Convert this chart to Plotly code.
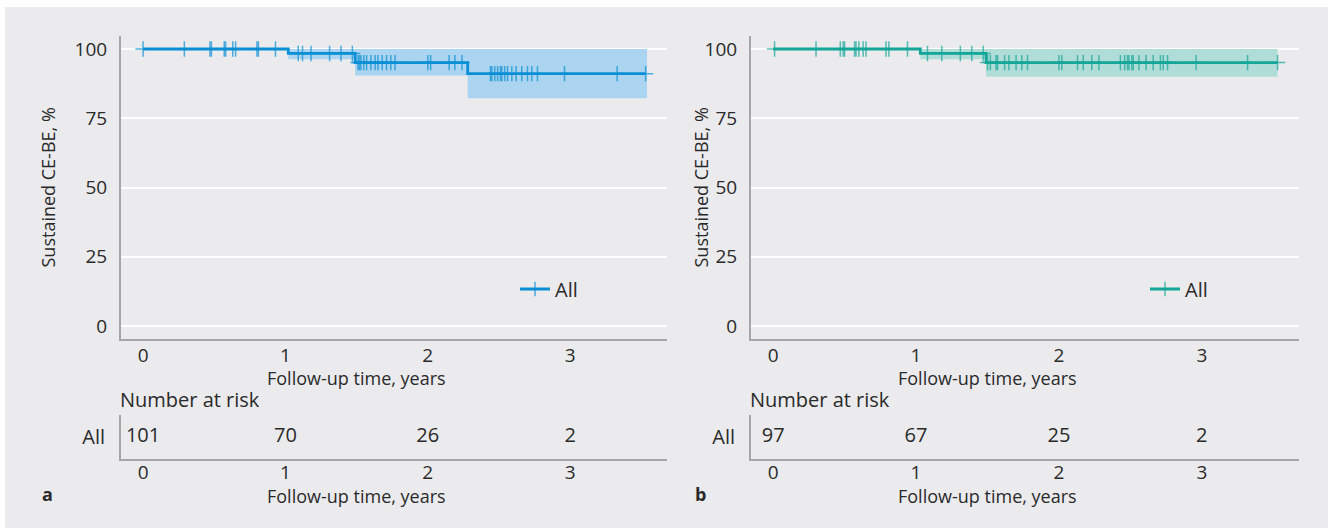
import plotly.graph_objects as go

W, H = 1328, 528

# ---------------- data ----------------
# Panel a
a_step_times = [0.0, 1.02, 1.49, 2.28]
a_step_levels = [100.0, 98.4, 95.1, 91.1]
a_censor_times = [0.00, 0.29, 0.47, 0.48, 0.57, 0.58, 0.63, 0.65, 0.80, 0.81, 0.93,
                  1.09, 1.12, 1.18, 1.31, 1.39, 1.47,
                  1.51, 1.52, 1.53, 1.55, 1.57, 1.60, 1.63, 1.65, 1.68, 1.71, 1.74, 1.77,
                  2.00, 2.02, 2.15, 2.19, 2.24,
                  2.44, 2.45, 2.47, 2.49, 2.51, 2.52, 2.54, 2.56, 2.59, 2.62, 2.66, 2.70,
                  2.73, 2.77, 2.96, 3.33, 3.53]
a_ci_times = [1.02, 1.49, 2.28, 3.54]
a_ci_lower = [96.3, 90.4, 82.2, 82.2]
a_ci_upper = [100.0, 100.0, 100.0, 100.0]
a_risk_times = [0, 1, 2, 3]
a_risk_counts = [101, 70, 26, 2]

# Panel b
b_step_times = [0.0, 1.03, 1.49]
b_step_levels = [100.0, 98.4, 95.1]
b_censor_times = [0.01, 0.30, 0.47, 0.49, 0.50, 0.57, 0.58, 0.60, 0.63, 0.65, 0.79, 0.81, 0.94,
                  1.08, 1.18, 1.31, 1.39, 1.47,
                  1.50, 1.52, 1.56, 1.57, 1.62, 1.65, 1.70, 1.74, 1.78,
                  2.00, 2.02, 2.13, 2.17, 2.23, 2.28,
                  2.43, 2.46, 2.48, 2.49, 2.51, 2.52, 2.56, 2.61, 2.66, 2.71, 2.73, 2.76,
                  2.96, 3.32, 3.53]
b_ci_times = [1.03, 1.49, 3.53]
b_ci_lower = [96.3, 90.0, 90.0]
b_ci_upper = [100.0, 100.0, 100.0]
b_risk_times = [0, 1, 2, 3]
b_risk_counts = [97, 67, 25, 2]

x_ticks = [0, 1, 2, 3]
y_ticks = [0, 25, 50, 75, 100]
x_title = "Follow-up time, years"
y_title = "Sustained CE-BE, %"
risk_title = "Number at risk"
group_name = "All"
panel_letters = ["a", "b"]

# ---------------- styling ----------------
BG = "#ebebee"
AXC = "#a6a6a8"
TXT = "#2a2a2a"
FONT = "Open Sans, Liberation Sans, Arial, sans-serif"
BLUE = "#0a8fd5"
BLUE_FILL = "#aad4ef"
TEAL = "#14a698"
TEAL_FILL = "#b1ddd8"


def px_x(p):
    return p / W


def px_y(p):
    return 1 - p / H


def km_trace_points(step_times, step_levels, censor_times):
    def level_at(t):
        lv = step_levels[0]
        for st, sl in zip(step_times, step_levels):
            if st <= t:
                lv = sl
        return lv
    pts = [(t, l, 0) for t, l in zip(step_times, step_levels)]
    pts += [(t, level_at(t), 11) for t in censor_times]
    pts.sort(key=lambda p: (p[0], p[2]))
    return [p[0] for p in pts], [p[1] for p in pts], [p[2] for p in pts]


fig = go.Figure()

panels = [
    dict(xa="x", ya="y", xr="x3", yr="y3", leg="legend",
         steps=(a_step_times, a_step_levels, a_censor_times),
         ci=(a_ci_times, a_ci_lower, a_ci_upper),
         risk=(a_risk_times, a_risk_counts), col=BLUE, fill=BLUE_FILL),
    dict(xa="x2", ya="y2", xr="x4", yr="y4", leg="legend2",
         steps=(b_step_times, b_step_levels, b_censor_times),
         ci=(b_ci_times, b_ci_lower, b_ci_upper),
         risk=(b_risk_times, b_risk_counts), col=TEAL, fill=TEAL_FILL),
]

for p in panels:
    ct, cl, cu = p["ci"]
    fig.add_trace(go.Scatter(x=ct, y=cu, mode="lines", line=dict(width=0, shape="hv"),
                             showlegend=False, hoverinfo="skip", xaxis=p["xa"], yaxis=p["ya"]))
    fig.add_trace(go.Scatter(x=ct, y=cl, mode="lines", line=dict(width=0, shape="hv"),
                             fill="tonexty", fillcolor=p["fill"],
                             showlegend=False, hoverinfo="skip", xaxis=p["xa"], yaxis=p["ya"]))
    xs, ys, ss = km_trace_points(*p["steps"])
    fig.add_trace(go.Scatter(x=xs, y=ys, mode="lines+markers", name=group_name,
                             line=dict(color=p["col"], width=2.8, shape="hv"),
                             marker=dict(symbol="cross-thin", size=ss, color=p["col"],
                                         line=dict(color=p["col"], width=1.5)),
                             legend=p["leg"], xaxis=p["xa"], yaxis=p["ya"]))
    rt, rc = p["risk"]
    fig.add_trace(go.Scatter(x=rt, y=[0.5] * len(rt), mode="text", text=[str(c) for c in rc],
                             textposition="middle center",
                             textfont=dict(size=20, color=TXT, family=FONT),
                             showlegend=False, hoverinfo="skip", xaxis=p["xr"], yaxis=p["yr"]))

# axes geometry in pixels
panel_px = [(121, 667), (751, 1299)]
ytitle_px = [47, 700]
letter_px = [40, 693]
main_y = (36, 339)
risk_y = (415, 459)
XR = [-0.155, 3.68]
YR = [-4.7, 104.7]

common_x = dict(range=XR, tickvals=x_ticks, showgrid=False, zeroline=False, showline=True,
                linecolor=AXC, linewidth=2, ticks="", automargin=False,
                tickfont=dict(size=19, color=TXT, family=FONT), fixedrange=True)

layout = dict(
    width=W, height=H, margin=dict(l=0, r=0, t=0, b=0),
    paper_bgcolor="white", plot_bgcolor="rgba(0,0,0,0)", template="none",
    font=dict(family=FONT, color=TXT),
)

for i, (x0, x1) in enumerate(panel_px):
    mx = "xaxis" if i == 0 else "xaxis2"
    my = "yaxis" if i == 0 else "yaxis2"
    rx = "xaxis3" if i == 0 else "xaxis4"
    ry = "yaxis3" if i == 0 else "yaxis4"
    my_id = "y" if i == 0 else "y2"
    mx_id = "x" if i == 0 else "x2"
    ry_id = "y3" if i == 0 else "y4"
    rx_id = "x3" if i == 0 else "x4"
    dom_x = [px_x(x0), px_x(x1)]
    layout[mx] = dict(common_x, domain=dom_x, anchor=my_id, ticklabelstandoff=-2)
    layout[my] = dict(domain=[px_y(main_y[1]), px_y(main_y[0])], anchor=mx_id, range=YR,
                      tickvals=y_ticks, showgrid=True, gridcolor="white", gridwidth=2,
                      zeroline=False, showline=True, linecolor=AXC, linewidth=2, ticks="",
                      automargin=False, ticklabelstandoff=8,
                      tickfont=dict(size=19, color=TXT, family=FONT), fixedrange=True)
    layout[rx] = dict(common_x, domain=dom_x, anchor=ry_id, ticklabelstandoff=-5)
    layout[ry] = dict(domain=[px_y(risk_y[1]), px_y(risk_y[0])], anchor=rx_id, range=[0, 1],
                      tickvals=[0.5], ticktext=[group_name], showgrid=False, zeroline=False,
                      showline=True, linecolor=AXC, linewidth=2, ticks="", automargin=False,
                      ticklabelstandoff=10,
                      tickfont=dict(size=20, color=TXT, family=FONT), fixedrange=True)

layout["legend"] = dict(x=px_x(515), y=px_y(289), xanchor="left", yanchor="middle",
                        bgcolor="rgba(0,0,0,0)", font=dict(size=20, color=TXT, family=FONT),
                        borderwidth=0)
layout["legend2"] = dict(x=px_x(1145), y=px_y(289), xanchor="left", yanchor="middle",
                         bgcolor="rgba(0,0,0,0)", font=dict(size=20, color=TXT, family=FONT),
                         borderwidth=0)

fig.update_layout(**layout)

fig.add_shape(type="rect", xref="paper", yref="paper", x0=px_x(5), x1=1, y0=0, y1=px_y(7),
              fillcolor=BG, line=dict(width=0), layer="below")

ann = []
for i, (x0, x1) in enumerate(panel_px):
    mx_id = "x" if i == 0 else "x2"
    rx_id = "x3" if i == 0 else "x4"
    ann.append(dict(text=x_title, xref=mx_id, x=1.5, yref="paper", y=px_y(378),
                    showarrow=False, xanchor="center", yanchor="middle",
                    font=dict(size=18, color=TXT, family=FONT)))
    ann.append(dict(text=x_title, xref=rx_id, x=1.5, yref="paper", y=px_y(496),
                    showarrow=False, xanchor="center", yanchor="middle",
                    font=dict(size=18, color=TXT, family=FONT)))
    ann.append(dict(text=risk_title, xref="paper", x=px_x(x0 - 3), yref="paper", y=px_y(399),
                    showarrow=False, xanchor="left", yanchor="middle",
                    font=dict(size=20, color=TXT, family=FONT)))
    ann.append(dict(text=y_title, xref="paper", x=px_x(ytitle_px[i]), yref="paper",
                    y=px_y((main_y[0] + main_y[1]) / 2), textangle=-90,
                    showarrow=False, xanchor="center", yanchor="middle",
                    font=dict(size=18, color=TXT, family=FONT)))
    ann.append(dict(text="<b>%s</b>" % panel_letters[i], xref="paper",
                    x=px_x(letter_px[i]), yref="paper", y=px_y(494),
                    showarrow=False, xanchor="left", yanchor="middle",
                    font=dict(size=18, color=TXT, family=FONT)))
fig.update_layout(annotations=ann)

fig.write_html("out.html", config={"displayModeBar": False},
               post_script="document.body.style.margin='0';")
